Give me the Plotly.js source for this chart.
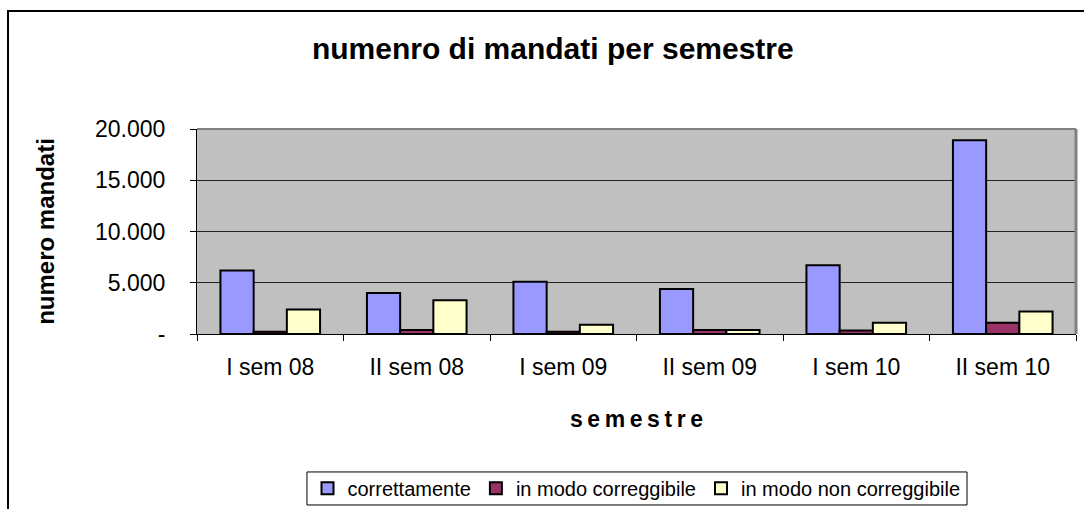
<!DOCTYPE html>
<html>
<head>
<meta charset="utf-8">
<script src="https://cdn.plot.ly/plotly-3.0.1.min.js"></script>
<style>
html,body{margin:0;padding:0;background:#fff;}
#chart{width:1084px;height:509px;}
</style>
</head>
<body>
<div id="chart"></div>
<script>
const categories = ["I sem 08", "II sem 08", "I sem 09", "II sem 09", "I sem 10", "II sem 10"];
const correttamente = [6200, 4000, 5100, 4400, 6700, 18900];
const correggibile = [230, 400, 230, 400, 350, 1100];
const nonCorreggibile = [2400, 3300, 900, 400, 1100, 2200];
const seriesNames = ["correttamente", "in modo correggibile", "in modo non correggibile"];
const yTickVals = [0, 5000, 10000, 15000, 20000];
const yTickText = ["-", "5.000", "10.000", "15.000", "20.000"];

const colors = ["#9999FF", "#993366", "#FFFFCC"];
const seriesValues = [correttamente, correggibile, nonCorreggibile];
const font = "Liberation Sans, Arial, sans-serif";

const traces = seriesValues.map((vals, i) => ({
  type: "bar",
  name: seriesNames[i],
  x: categories,
  y: vals,
  marker: {color: colors[i], line: {color: "#000", width: 2}},
  hoverinfo: "x+y"
}));

const layout = {
  width: 1084, height: 509,
  margin: {l: 197, r: 8, t: 129, b: 175},
  paper_bgcolor: "#fff",
  plot_bgcolor: "#C0C0C0",
  font: {family: font, color: "#000", size: 20},
  barmode: "group",
  bargap: 0.32,
  bargroupgap: 0,
  showlegend: true,
  title: {
    text: "<b>numenro di mandati per semestre</b>",
    font: {family: font, size: 30, color: "#000"},
    xref: "container", x: 0.51, xanchor: "center",
    yref: "container", y: 0.904, yanchor: "middle"
  },
  xaxis: {
    type: "category",
    tickson: "boundaries",
    ticks: "outside", ticklen: 6, tickcolor: "#000", tickwidth: 1,
    showline: true, linecolor: "#000", linewidth: 1,
    showgrid: false,
    tickfont: {family: font, size: 23},
    ticklabelstandoff: 12,
    title: {text: "<b>s\u2009e\u2009m\u2009e\u2009s\u2009t\u2009r\u2009e</b>", font: {family: font, size: 23}, standoff: 32},
    automargin: false,
    fixedrange: true
  },
  yaxis: {
    range: [0, 20000],
    tickvals: yTickVals, ticktext: yTickText,
    ticks: "outside", ticklen: 6, tickcolor: "#000", tickwidth: 1,
    showline: true, linecolor: "#000", linewidth: 1,
    showgrid: true, gridcolor: "#222", gridwidth: 1,
    zeroline: false,
    tickfont: {family: font, size: 23},
    ticklabelstandoff: 20,
    title: {text: "<b>numero mandati</b>", font: {family: font, size: 24}, standoff: 33},
    automargin: false,
    fixedrange: true
  },
  legend: {
    orientation: "h",
    xref: "paper", x: 0.5, xanchor: "center",
    yref: "container", y: 0.041, yanchor: "middle",
    bgcolor: "rgba(0,0,0,0)", bordercolor: "rgba(0,0,0,0)", borderwidth: 0,
    font: {family: font, size: 20},
    itemwidth: 30,
    traceorder: "normal"
  },
  shapes: [
    {type: "line", xref: "paper", yref: "paper", x0: 0, x1: 1, y0: 1, y1: 1,
     line: {color: "#808080", width: 2}},
    {type: "line", xref: "paper", yref: "paper", x0: 1, x1: 1, y0: 0, y1: 1,
     line: {color: "#808080", width: 3}},
    {type: "rect", xref: "paper", yref: "paper", x0: -0.215, x1: 1.2, y0: -1.2, y1: 1.5756,
     line: {color: "#000", width: 2}, fillcolor: "rgba(0,0,0,0)", layer: "below"},
    {type: "rect", xref: "paper", yref: "paper", x0: 0.1251, x1: 0.876, y0: -0.834, y1: -0.673,
     line: {color: "#000", width: 1}, fillcolor: "#fff", layer: "below"}
  ]
};

Plotly.newPlot("chart", traces, layout, {displayModeBar: false, staticPlot: true});
</script>
</body>
</html>
